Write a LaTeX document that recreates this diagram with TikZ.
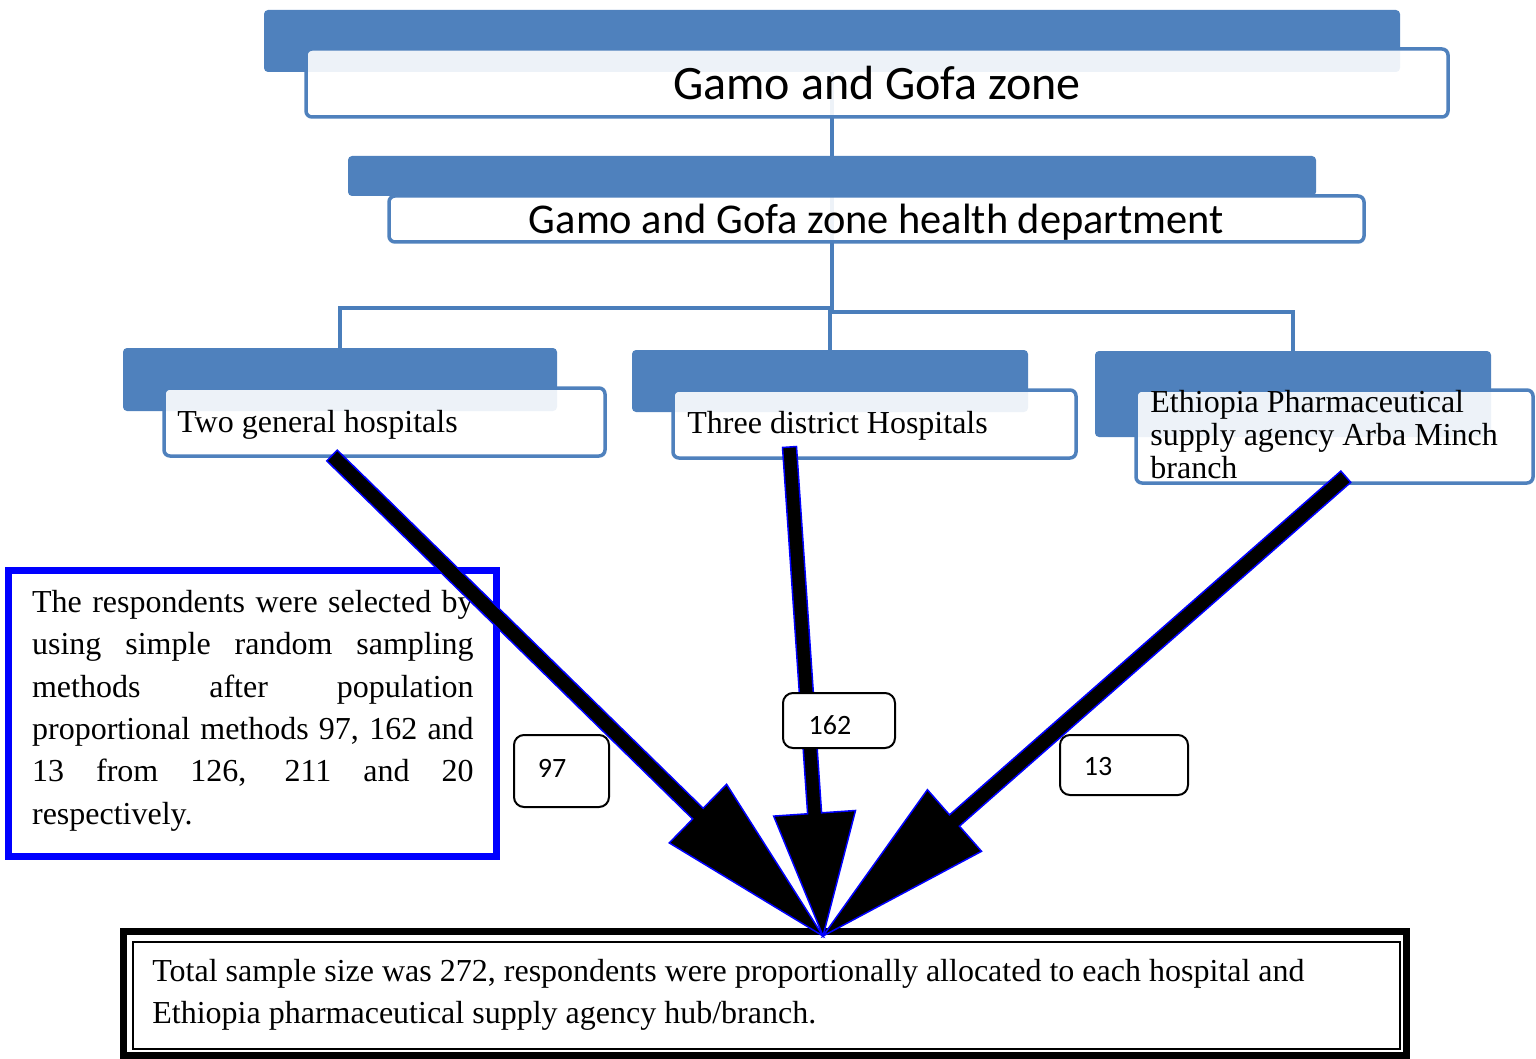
\documentclass[tikz,border=0pt]{standalone}
\usepackage{fontspec}
\setmainfont{Liberation Serif}
\newfontfamily\calib{Carlito}
\usetikzlibrary{calc}
\definecolor{sablue}{HTML}{4F81BD}
\definecolor{saline}{HTML}{4A7EBB}
% #1 start, #2 tip, #3 head length, #4 head half-width, #5 shaft half-width
\newcommand\fatarrow[5]{%
  \path[arrowshape] ($(#1)!#5!90:(#2)$) -- ($(#2)!#3!(#1)!#5!-90:(#1)$) -- ($(#2)!#3!(#1)!#4!-90:(#1)$) -- (#2)
    -- ($(#2)!#3!(#1)!#4!90:(#1)$) -- ($(#2)!#3!(#1)!#5!90:(#1)$) -- ($(#1)!#5!-90:(#2)$) -- cycle;}
\begin{document}
\begin{tikzpicture}[x=0.5pt,y=-0.5pt,
  backbox/.style={fill=sablue, rounded corners=2pt, inner sep=0pt},
  frontbox/.style={draw=sablue, line width=1.75pt, fill=white, fill opacity=0.9, text opacity=1, rounded corners=3pt, inner sep=0pt},
  treeline/.style={draw=saline, line width=2pt},
  lbl/.style={inner sep=0pt, font=\fontsize{16}{16.4}\selectfont},
  numbox/.style={draw=black, line width=1pt, fill=white, rounded corners=5pt, inner sep=0pt},
  numtext/.style={inner sep=0pt, font=\calib\fontsize{14}{16}\selectfont},
  arrowshape/.style={fill=black, draw=blue, line width=0.75pt, line join=miter},
]
\useasboundingbox (0,0) rectangle (1536,1059);

% centres of the back rectangles
\path (832,41) coordinate (zoneC) (832,176) coordinate (deptC) (340,379.5) coordinate (genC) (830,381) coordinate (distC) (1293,394) coordinate (epsaC);

% tree connectors
\draw[treeline] (zoneC) -- (deptC);
\draw[treeline] (deptC) -- (deptC |- 0,308) -| (genC);
\draw[treeline] (distC |- 0,308) -- (distC);
\draw[treeline] (deptC |- 0,312) -| (epsaC);

% level 1
\node[backbox, minimum width=568pt, minimum height=31pt] (zoneB) at (zoneC) {};
\node[frontbox, minimum width=571pt, minimum height=34pt, text depth=0pt, font=\calib\fontsize{24}{28}\selectfont] (zone) at (877,83) {Gamo and Gofa zone};

% level 2
\node[backbox, minimum width=484pt, minimum height=20pt] (deptB) at (deptC) {};
\node[frontbox, minimum width=487.5pt, minimum height=23pt, text depth=0pt, font=\calib\fontsize{21.2}{24}\selectfont] (dept) at (876.5,219) {Gamo and Gofa zone health department};

% level 3
\node[backbox, minimum width=217pt, minimum height=31.5pt] (genB) at (genC) {};
\node[frontbox, minimum width=220.5pt, minimum height=34pt] (gen) at (384.5,422) {};
\node[lbl, anchor=base west] (genT) at (177,432) {Two general hospitals};

\node[backbox, minimum width=198pt, minimum height=31pt] (distB) at (distC) {};
\node[frontbox, minimum width=201.5pt, minimum height=34pt] (dist) at (874.5,424) {};
\node[lbl, anchor=base west] (distT) at (687,433) {Three district Hospitals};

\node[backbox, minimum width=198pt, minimum height=43pt] (epsaB) at (epsaC) {};
\node[frontbox, minimum width=198.5pt, minimum height=46.5pt] (epsa) at (1334.5,436.5) {};
\node[lbl, anchor=north west, align=left] (epsaT) at (1150,390) {Ethiopia Pharmaceutical\\supply agency Arba Minch\\branch};

% note box
\node[draw=blue, line width=3.5pt, minimum width=244pt, minimum height=142.9pt, inner sep=0pt] (noteB) at (252.7,713.4) {};
\node[anchor=north west, text width=220.8pt, align=justify, inner sep=0pt, font=\fontsize{16}{21.15}\selectfont] (note) at (31.7,590)
  {The respondents were selected by\linebreak using simple random sampling\linebreak methods after population\linebreak proportional methods 97, 162 and\linebreak 13 from 126, 211 and 20\linebreak respectively.};

% bottom box
\node[draw=black, line width=3.5pt, minimum width=641.5pt, minimum height=62pt, inner sep=0pt] (totalO) at (765,993.5) {};
\node[draw=black, line width=1pt, minimum width=633.5pt, minimum height=53.65pt, inner sep=0pt] (totalI) at (766.5,995.4) {};
\node[anchor=north west, align=left, inner sep=0pt, font=\fontsize{16}{21}\selectfont] (total) at (152,959)
  {Total sample size was 272, respondents were proportionally allocated to each hospital and\\Ethiopia pharmaceutical supply agency hub/branch.};

% arrows
\coordinate (s1) at (332,455.5);
\coordinate (s2) at (789.5,447);
\coordinate (s3) at (1345.8,476.7);
\coordinate (tip) at (823,936);
\fatarrow{s1}{tip}{87.5pt}{20.5pt}{3.75pt}
\fatarrow{s2}{tip}{61.5pt}{20.5pt}{3.5pt}
\fatarrow{s3}{tip}{87.5pt}{20.5pt}{3.75pt}

% number boxes
\node[numbox, minimum width=47.5pt, minimum height=36pt] (n97) at (561.5,771) {};
\node[numtext] (n97T) at (552,768) {97};
\node[numbox, minimum width=56pt, minimum height=27.5pt] (n162) at (839,720.5) {};
\node[numtext] (n162T) at (830,725) {162};
\node[numbox, minimum width=64pt, minimum height=30pt] (n13) at (1124,765) {};
\node[numtext] (n13T) at (1098,767) {13};
\end{tikzpicture}
\end{document}
